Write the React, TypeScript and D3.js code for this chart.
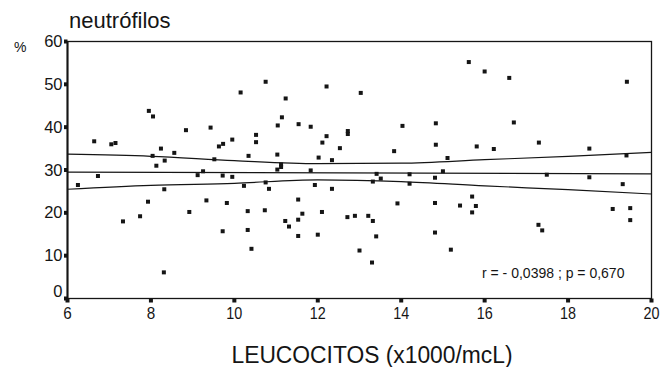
import * as d3 from 'd3'

// leucocitos (x1000/mcL) vs neutrófilos (%)
const leucocitos = [
  6.25, 6.64, 6.73, 7.05, 7.15, 7.33, 7.74, 7.93, 7.95, 8.05, 8.04, 8.13, 8.24, 8.33, 8.32, 8.31, 8.56, 8.84, 8.92, 9.12,
  9.25, 9.33, 9.43, 9.52, 9.63, 9.73, 9.72, 9.72, 9.82, 9.95, 9.95, 10.15, 10.23, 10.32, 10.32, 10.34, 10.41, 10.52, 10.52, 10.73,
  10.75, 10.75, 10.83, 11.03, 11.03, 11.04, 11.12, 11.12, 11.14, 11.22, 11.23, 11.31, 11.53, 11.53, 11.53, 11.54, 11.63, 11.83, 11.83, 11.93,
  12.0, 12.02, 12.1, 12.11, 12.21, 12.21, 12.34, 12.34, 12.53, 12.71, 12.72, 12.72, 12.89, 13.0, 13.03, 13.21, 13.3, 13.32, 13.32, 13.4,
  13.41, 13.51, 13.83, 13.91, 14.03, 14.2, 14.2, 14.81, 14.81, 14.81, 14.83, 14.83, 15.0, 15.11, 15.19, 15.41, 15.62, 15.7, 15.7, 15.79,
  15.81, 16.0, 16.22, 16.59, 16.7, 17.29, 17.3, 17.38, 17.49, 18.51, 18.51, 19.07, 19.31, 19.4, 19.41, 19.49, 19.49,
]
const neutrofilos = [
  26.5, 36.7, 28.6, 36.0, 36.3, 18.0, 19.2, 22.6, 43.8, 42.5, 33.3, 31.0, 35.0, 32.2, 25.5, 6.1, 34.0, 39.3, 20.2, 28.8,
  29.7, 22.9, 39.9, 32.5, 35.5, 36.1, 28.7, 15.7, 22.3, 37.1, 28.4, 48.1, 26.3, 20.4, 16.0, 33.3, 11.6, 38.2, 36.5, 20.6,
  50.6, 27.1, 25.6, 33.6, 30.1, 40.4, 31.3, 30.7, 42.3, 18.1, 46.7, 16.8, 23.1, 18.4, 14.6, 40.7, 19.8, 40.1, 29.9, 26.5,
  14.9, 32.9, 20.2, 36.4, 37.9, 49.5, 32.3, 25.6, 35.1, 19.0, 39.1, 38.4, 19.3, 11.2, 48.0, 19.3, 8.4, 27.3, 18.1, 14.5,
  29.1, 28.0, 34.4, 22.2, 40.3, 29.0, 26.8, 28.2, 22.3, 15.4, 40.9, 35.9, 29.7, 32.8, 11.4, 21.7, 55.2, 23.8, 20.1, 21.6,
  35.5, 53.0, 34.9, 51.5, 41.1, 17.2, 36.4, 15.9, 28.9, 35.0, 28.3, 20.9, 26.7, 33.4, 50.6, 21.1, 18.3,
]

// regression line and confidence band, read at these x values
const fitX = [6, 20]
const fitY = [29.5, 29.1]
const bandX = [6, 8, 10, 12, 14, 16, 18, 20]
const bandUpper = [33.7, 33.2, 32.2, 31.5, 31.6, 32.4, 33.2, 34.1]
const bandLower = [25.5, 26.4, 26.9, 27.7, 27.3, 26.3, 25.4, 24.4]

const xTicks = [6, 8, 10, 12, 14, 16, 18, 20]
const yTicks = [0, 10, 20, 30, 40, 50, 60]

const FONT = '"Liberation Sans", Arial, sans-serif'
const INK = '#151515'

export default function App() {
  const x = d3.scaleLinear().domain([6, 20]).range([67.5, 651.5])
  const y = d3.scaleLinear().domain([0, 60]).range([298.5, 41.5])
  const [x0, x1] = x.range()
  const [y0, y1] = y.range()

  const line = d3.line<number>().x((_, i) => x(bandX[i])).y(v => y(v)).curve(d3.curveMonotoneX)
  const fit = d3.line<number>().x((_, i) => x(fitX[i])).y(v => y(v))

  return (
    <svg width={672} height={367} style={{ position: 'fixed', left: 0, top: 0, background: '#fff' }}
      fontFamily={FONT}>
      <text x={69} y={28} fontSize={22} fill={INK}>neutrófilos</text>
      <text x={14} y={51.5} fontSize={14} fill={INK}>%</text>

      {/* frame */}
      <rect x={x0} y={y1} width={x1 - x0} height={y0 - y1} fill="none" stroke={INK} strokeWidth={1.3}/>
      <line x1={x0} x2={x0} y1={y1} y2={y0} stroke={INK} strokeWidth={2}/>

      {/* y ticks */}
      {yTicks.map(t => (
        <g key={t}>
          <rect x={x0 - 3.5} y={y(t) - 2} width={3.5} height={4} fill={INK}/>
          <text x={62.5} y={t === 0 ? y(t) - 1.5 : y(t) + 5.5} fontSize={16.5} textAnchor="end" fill={INK}>{t}</text>
        </g>
      ))}

      {/* x ticks */}
      {xTicks.map(t => (
        <g key={t}>
          <rect x={x(t) - 2} y={y0} width={4} height={4} fill={INK}/>
          <text x={x(t)} y={319} fontSize={16.5} textAnchor="middle" fill={INK}
            textLength={t >= 10 ? 16 : 8.5} lengthAdjust="spacingAndGlyphs">{t}</text>
        </g>
      ))}

      {/* fit + confidence band */}
      <path d={fit(fitY) ?? ''} fill="none" stroke={INK} strokeWidth={1.2}/>
      <path d={line(bandUpper) ?? ''} fill="none" stroke={INK} strokeWidth={1.2}/>
      <path d={line(bandLower) ?? ''} fill="none" stroke={INK} strokeWidth={1.2}/>

      {/* points */}
      {leucocitos.map((lx, i) => (
        <rect key={i} x={x(lx) - 2} y={y(neutrofilos[i]) - 2} width={4} height={4} fill={INK}/>
      ))}

      <text x={482} y={278.3} fontSize={14} fill={INK}>r = - 0,0398 ; p = 0,670</text>

      <text x={372} y={363} fontSize={23} textAnchor="middle" fill={INK}
        textLength={281} lengthAdjust="spacingAndGlyphs">LEUCOCITOS (x1000/mcL)</text>
    </svg>
  )
}
